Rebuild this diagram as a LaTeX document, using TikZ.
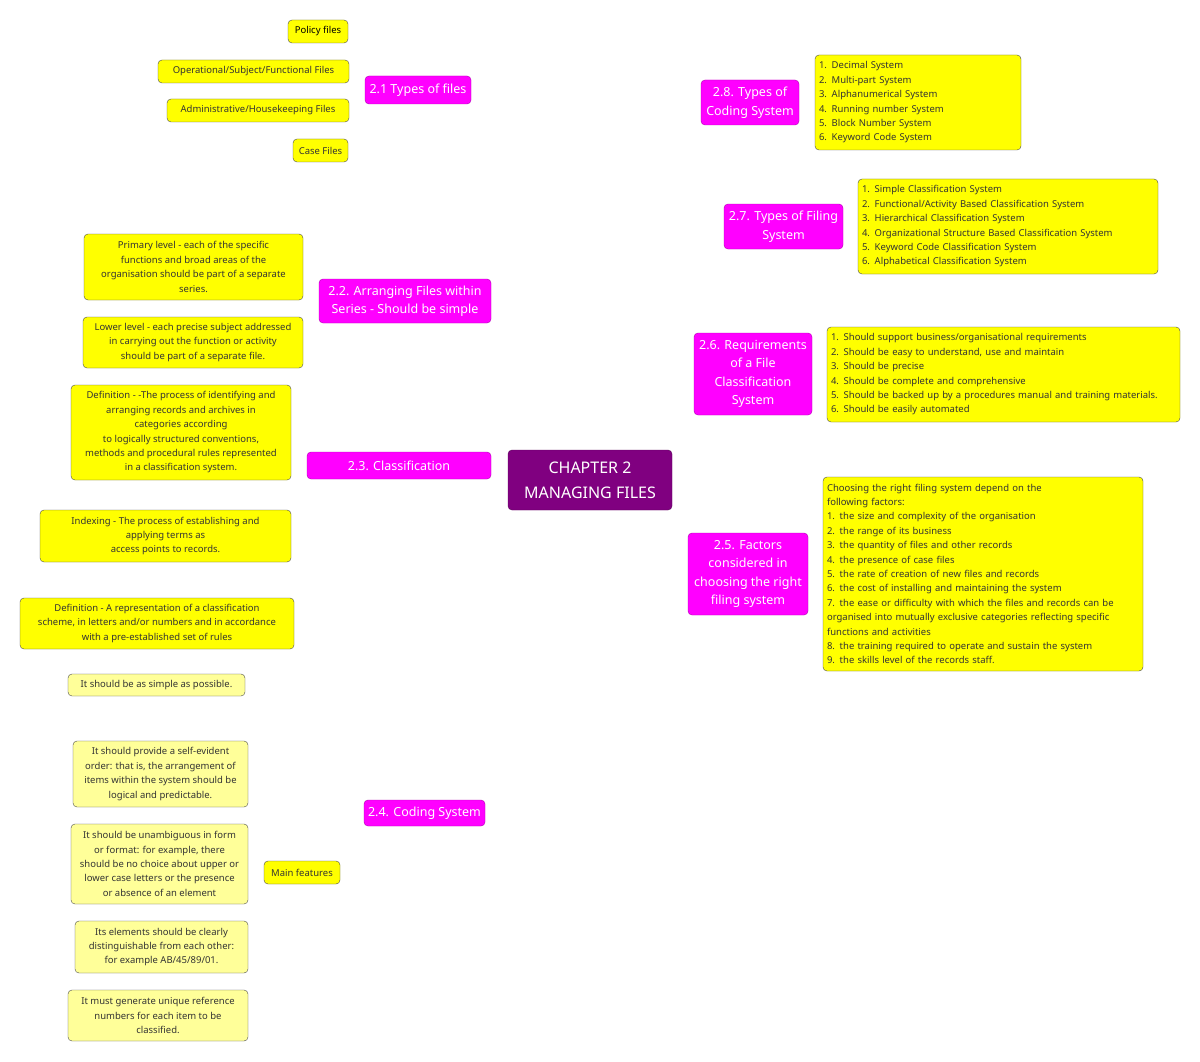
\documentclass[tikz,border=0pt]{standalone}
\usepackage{fontspec}
\setmainfont{Noto Sans}
\usetikzlibrary{backgrounds}
\definecolor{ylw}{HTML}{FFFF00}
\definecolor{lylw}{HTML}{FFFF99}
\definecolor{mag}{HTML}{FF00FF}
\definecolor{pur}{HTML}{800080}
\tikzset{
 leaf/.style={draw=black!70,fill=ylw,rounded corners=4pt,font=\bfseries\fontsize{9.5}{14.4}\selectfont,text=black!80,align=center,inner sep=2pt},
 lleaf/.style={leaf,fill=lylw},
 lst/.style={leaf,align=left,inner sep=4pt},
 topic/.style={draw=mag!70!black,fill=mag,rounded corners=4pt,font=\bfseries\fontsize{12.5}{18.5}\selectfont,text=white,align=center,inner sep=2pt},
 con/.style={draw=black!70,line width=0.7pt},
}
\begin{document}
\begin{tikzpicture}[x=1pt,y=-1pt]
\useasboundingbox[fill=white] (0,0) rectangle (1200,1062);
\node[draw=pur!70!black,fill=pur,rounded corners=4pt,text=white,font=\bfseries\fontsize{16}{25}\selectfont,align=center,minimum width=164pt,minimum height=60pt] (c) at (590,480) {CHAPTER 2\\MANAGING FILES};
% left
\node[topic,minimum width=106pt,minimum height=28pt] (t1) at (418,90) {2.1 Types of files};
\node[leaf,fill=ylw,minimum width=60pt,minimum height=23pt,text=black] (p) at (318,31.5) {Policy files};
\node[leaf,minimum width=191pt,minimum height=23pt] (o) at (253.5,71.5) {Operational/Subject/Functional Files};
\node[leaf,minimum width=182pt,minimum height=23pt] (a) at (258,110.5) {Administrative/Housekeeping Files};
\node[leaf,minimum width=55pt,minimum height=23pt] (cf) at (320.5,150.5) {Case Files};
\node[topic,minimum width=172pt,minimum height=44pt] (t2) at (405,301) {2.2. Arranging Files within\\Series - Should be simple};
\node[leaf,minimum width=219pt,minimum height=66pt] (pr) at (193.5,267) {Primary level - each of the specific\\functions and broad areas of the\\organisation should be part of a separate\\series.};
\node[leaf,minimum width=220pt,minimum height=51pt] (lo) at (193,342.5) {Lower level - each precise subject addressed\\in carrying out the function or activity\\should be part of a separate file.};
\node[topic,minimum width=184pt,minimum height=27pt] (t3) at (399,465.5) {2.3. Classification};
\node[leaf,minimum width=220pt,minimum height=95pt] (d1) at (181,432.5) {Definition - -The process of identifying and\\arranging records and archives in\\categories according\\to logically structured conventions,\\methods and procedural rules represented\\in a classification system.};
\node[leaf,minimum width=251pt,minimum height=52pt] (ix) at (165.5,536) {Indexing - The process of establishing and\\applying terms as\\access points to records.};
\node[topic,minimum width=121pt,minimum height=26pt] (t4) at (424.5,813) {2.4. Coding System};
\node[leaf,minimum width=274pt,minimum height=51pt] (d2) at (157,623.5) {Definition -  A representation of a classification\\scheme, in letters and/or numbers and in accordance\\with a pre-established set of rules};
\node[leaf,minimum width=76pt,minimum height=23pt] (mf) at (302,872.5) {Main features};
\node[lleaf,minimum width=177pt,minimum height=22pt] (f1) at (156.5,685) {It should be as simple as possible.};
\node[lleaf,minimum width=175pt,minimum height=66pt] (f2) at (160.5,774) {It should provide a self-evident\\order: that is, the arrangement of\\items within the system should be\\logical and predictable.};
\node[lleaf,minimum width=177pt,minimum height=80pt] (f3) at (159.5,864) {It should be unambiguous in form\\or format: for example, there\\should be no choice about upper or\\lower case letters or the presence\\or absence of an element};
\node[lleaf,minimum width=173pt,minimum height=52pt] (f4) at (161.5,947) {Its elements should be clearly\\distinguishable from each other:\\for example AB/45/89/01.};
\node[lleaf,minimum width=180pt,minimum height=51pt] (f5) at (158,1015.5) {It must generate unique reference\\numbers for each item to be\\classified.};
% right
\node[topic,minimum width=98pt,minimum height=45pt] (t8) at (750,102.5) {2.8. Types of\\Coding System};
\node[lst,text width=198pt,minimum height=95pt] (l8) at (918,102.5) {1. Decimal System\\2. Multi-part System\\3. Alphanumerical System\\4. Running number System\\5. Block Number System\\6. Keyword Code System};
\node[topic,minimum width=119pt,minimum height=45pt] (t7) at (783.5,226.5) {2.7. Types of Filing\\System};
\node[lst,text width=292pt,minimum height=95pt] (l7) at (1008,226.5) {1. Simple Classification System\\2. Functional/Activity Based Classification System\\3. Hierarchical Classification System\\4. Organizational Structure Based Classification System\\5. Keyword Code Classification System\\6. Alphabetical Classification System};
\node[topic,minimum width=118pt,minimum height=82pt] (t6) at (753,374) {2.6. Requirements\\of a File\\Classification\\System};
\node[lst,text width=345pt,minimum height=95pt] (l6) at (1003.5,374.5) {1. Should support business/organisational requirements\\2. Should be easy to understand, use and maintain\\3. Should be precise\\4. Should be complete and comprehensive\\5. Should be backed up by a procedures manual and training materials.\\6. Should be easily automated};
\node[topic,minimum width=120pt,minimum height=82pt] (t5) at (748,574) {2.5. Factors\\considered in\\choosing the right\\filing system};
\node[lst,text width=312pt,minimum height=194pt] (l5) at (983,574) {Choosing the right filing system depend on the\\following factors:\\1. the size and complexity of the organisation\\2. the range of its business\\3. the quantity of files and other records\\4. the presence of case files\\5. the rate of creation of new files and records\\6. the cost of installing and maintaining the system\\7. the ease or difficulty with which the files and records can be\\organised into mutually exclusive categories reflecting specific\\functions and activities\\8. the training required to operate and sustain the system\\9. the skills level of the records staff.};
\begin{scope}[on background layer]
\draw[con] (c.north) to[out=90,in=180] (t8.west);
\draw[con] (c.north) to[out=90,in=180] (t7.west);
\draw[con] (c.north) to[out=90,in=180] (t6.west);
\draw[con] (c.south) to[out=-90,in=180] (t5.west);
\draw[con] (c.north) to[out=90,in=0] (t1.east);
\draw[con] (c.north) to[out=90,in=0] (t2.east);
\draw[con] (c.west) to[out=180,in=0] (t3.east);
\draw[con] (c.south) to[out=-90,in=0] (t4.east);
\draw[con] (t8.east) -- (l8.west);
\draw[con] (t7.east) -- (l7.west);
\draw[con] (t6.east) -- (l6.west);
\draw[con] (t5.east) -- (l5.west);
\draw[con] (p.east) to[out=0,in=90] (t1.north);
\draw[con] (o.east) to[out=0,in=90] (t1.north);
\draw[con] (a.east) to[out=0,in=-90] (t1.south);
\draw[con] (cf.east) to[out=0,in=-90] (t1.south);
\draw[con] (pr.east) to[out=0,in=90] (t2.north);
\draw[con] (lo.east) to[out=0,in=-90] (t2.south);
\draw[con] (d1.east) to[out=0,in=90] (t3.north);
\draw[con] (ix.east) to[out=0,in=-90] (t3.south);
\draw[con] (d2.east) to[out=0,in=90] (t4.north);
\draw[con] (mf.east) to[out=0,in=-90] (t4.south);
\coordinate (mh) at (303,872.5);
\foreach \f in {f1,f2,f3,f4,f5} \draw[con] (\f.east) to[out=0,in=-90] (mh);
\end{scope}
\end{tikzpicture}
\end{document}
